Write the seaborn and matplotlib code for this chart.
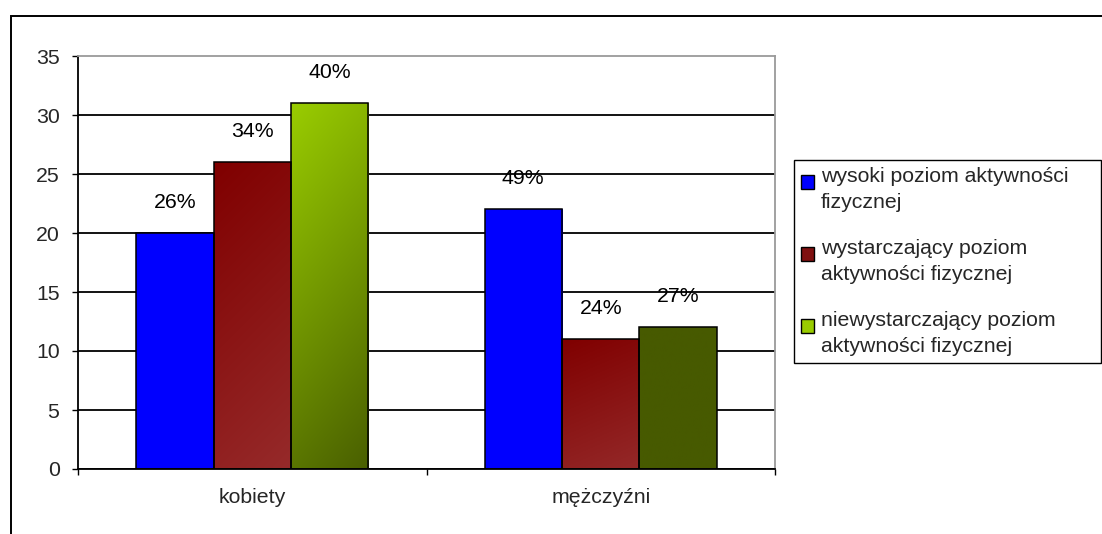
import numpy as np
import pandas as pd
import matplotlib
matplotlib.use("Agg")
import matplotlib.pyplot as plt
import seaborn as sns
from matplotlib.patches import Rectangle
from matplotlib.legend_handler import HandlerPatch
from matplotlib.colors import to_rgb

# --- data -------------------------------------------------------------
groups = ["kobiety", "mężczyźni"]
levels = [
    "wysoki poziom aktywności\nfizycznej",
    "wystarczający poziom\naktywności fizycznej",
    "niewystarczający poziom\naktywności fizycznej",
]
kobiety = [20, 26, 31]
mezczyzni = [22, 11, 12]
yticks = [0, 5, 10, 15, 20, 25, 30, 35]

# fill of each bar: (top-left colour, bottom-right colour), per level and group
fills = {
    levels[0]: [("#0000FF", "#0000FF"), ("#0000FF", "#0000FF")],
    levels[1]: [("#800000", "#962A2A"), ("#800000", "#942828")],
    levels[2]: [("#99CC00", "#4A6000"), ("#475A00", "#475A00")],
}
legend_colors = ["#0000FF", "#7F1010", "#99CC00"]

FS = 15.3

df = pd.DataFrame({
    "grupa": np.repeat(groups, len(levels)),
    "poziom": levels * len(groups),
    "liczba": kobiety + mezczyzni,
})

sns.set_style("ticks")
plt.rcParams["font.family"] = ["Liberation Sans", "DejaVu Sans"]

fig = plt.figure(figsize=(11.02, 5.34), dpi=100)
ax = fig.add_axes([78 / 1102, 1 - 469 / 534, (775 - 78) / 1102, (469 - 56) / 534])

sns.barplot(
    data=df, x="grupa", y="liczba", hue="poziom", hue_order=levels,
    order=groups, palette=legend_colors, width=0.667, saturation=1,
    edgecolor="black", linewidth=1.1, legend=False, ax=ax,
)

# gradient fills clipped to each bar
ny, nx = 64, 32
yy, xx = np.mgrid[0:1:ny * 1j, 0:1:nx * 1j]
tt = np.clip(0.8 * yy + 0.2 * xx, 0, 1)[..., None]
for level, cont in zip(levels, ax.containers):
    for bar, (c0, c1) in zip(cont, fills[level]):
        x, w, h = bar.get_x(), bar.get_width(), bar.get_height()
        img = (1 - tt) * np.array(to_rgb(c0)) + tt * np.array(to_rgb(c1))
        im = ax.imshow(img, extent=(x, x + w, 0, h), origin="upper",
                       aspect="auto", zorder=1.5, interpolation="bilinear")
        im.set_clip_path(bar)
        bar.set_facecolor("none")
        bar.set_zorder(2)

# percentage of each group, written above its bar
for level, cont in zip(levels, ax.containers):
    for gi, bar in enumerate(cont):
        vals = kobiety if gi == 0 else mezczyzni
        v = bar.get_height()
        pct = round(v / sum(vals) * 100)
        ax.annotate(f"{pct}%", (bar.get_x() + bar.get_width() / 2, v),
                    xytext=(0, 22), textcoords="offset points",
                    ha="center", va="center", fontsize=FS, color="black")

ax.set_xlim(-0.5, 1.5)
ax.set_ylim(0, 35)
ax.set_yticks(yticks)
ax.set_xlabel("")
ax.set_ylabel("")

# grid
ax.set_axisbelow(True)
ax.yaxis.grid(True, color="black", linewidth=1.3)
ax.get_ygridlines()[-1].set_visible(False)

for side in ["left", "bottom"]:
    ax.spines[side].set_color("black")
    ax.spines[side].set_linewidth(1.3)
for side in ["top", "right"]:
    ax.spines[side].set_visible(True)
    ax.spines[side].set_color("#9a9a9a")
    ax.spines[side].set_linewidth(1.3)

ax.tick_params(axis="y", direction="out", length=4.3, width=1.0,
               color="black", pad=9, labelsize=FS)
ax.tick_params(axis="x", which="major", length=0, pad=14, labelsize=FS)
ax.set_xticks([-0.5, 0.5, 1.5], minor=True)
ax.tick_params(axis="x", which="minor", direction="out", length=4.3,
               width=1.0, color="black")

# legend
def shifted_square(legend, orig_handle, xdescent, ydescent, width, height, fontsize):
    return Rectangle((-xdescent, -ydescent + 0.36 * fontsize), width, height)

handles = [Rectangle((0, 0), 1, 1, facecolor=c, edgecolor="black", linewidth=1.0)
           for c in legend_colors]
leg_x0, leg_x1 = 794 / 1102, 1101 / 1102
leg_y1, leg_y0 = 1 - 160 / 534, 1 - 362 / 534
leg = fig.legend(
    handles, levels, loc="upper left", mode="expand",
    bbox_to_anchor=(leg_x0, leg_y0, leg_x1 - leg_x0, leg_y1 - leg_y0),
    bbox_transform=fig.transFigure,
    frameon=True, fancybox=False, edgecolor="black", framealpha=1,
    fontsize=FS, handlelength=0.6, handleheight=0.6, handletextpad=0.3,
    labelspacing=1.3, borderpad=0.35, borderaxespad=0,
    handler_map={Rectangle: HandlerPatch(patch_func=shifted_square)},
)
leg.get_frame().set_linewidth(1.0)
for t in leg.get_texts():
    t.set_linespacing(1.42)

# outer chart frame
fig.add_artist(Rectangle((11 / 1102, -0.1), 1.2, 1.1 - 16 / 534,
                         transform=fig.transFigure, fill=False,
                         edgecolor="black", linewidth=1.4))

fig.savefig("out.png", dpi=100)
